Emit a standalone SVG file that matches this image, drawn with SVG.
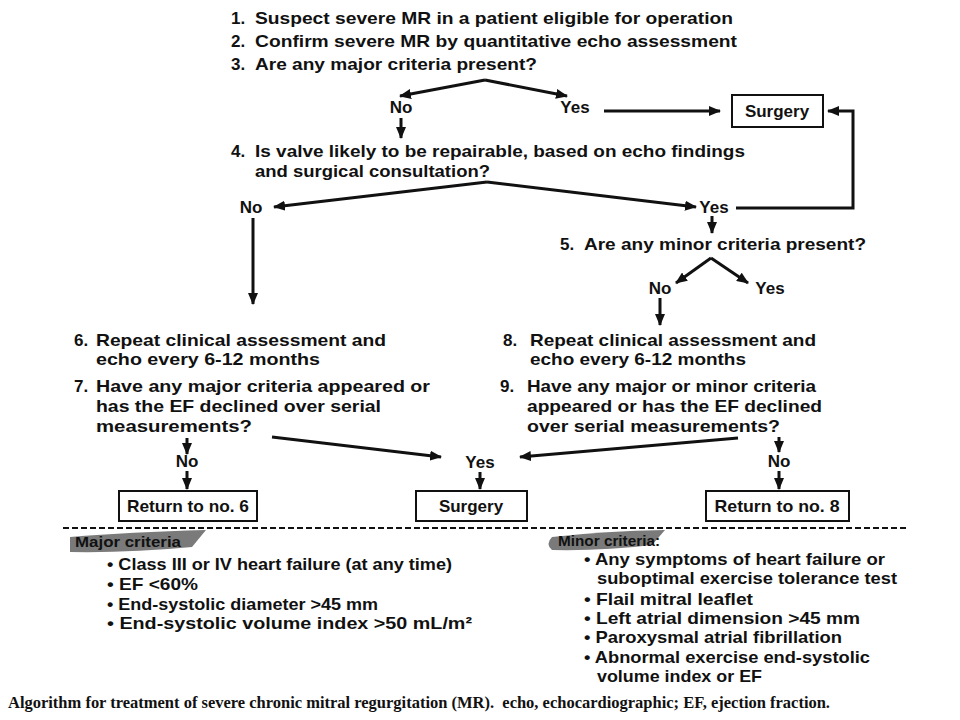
<svg xmlns="http://www.w3.org/2000/svg" width="960" height="720" viewBox="0 0 960 720">
<style>
.t{font-family:"Liberation Sans",Arial,sans-serif;font-weight:bold;font-size:17px;fill:#111}
.m{font-family:"Liberation Sans",Arial,sans-serif;font-weight:bold;font-size:17px;fill:#111}
.b{font-family:"Liberation Sans",Arial,sans-serif;font-weight:bold;font-size:17px;fill:#111}
.h{font-family:"Liberation Sans",Arial,sans-serif;font-weight:bold;font-size:15px;fill:#111}
.c{text-anchor:middle}
.cap{font-family:"Liberation Serif","Times New Roman",serif;font-weight:bold;font-size:16px;fill:#111}
.box{fill:#fff;stroke:#111;stroke-width:2}
.ln{fill:none;stroke:#111;stroke-width:3}
.tab{fill:#7a7a7a}
</style>
<defs>
<marker id="ah" markerUnits="userSpaceOnUse" markerWidth="12" markerHeight="10" refX="11" refY="5" orient="auto">
<path d="M0,0 L12,5 L0,10 z" fill="#111"/>
</marker>
</defs>
<rect width="960" height="720" fill="#fff"/>

<g id="steps1-3">
<text class="t" x="231" y="24">1.</text><text class="t" x="255" y="24" textLength="478" lengthAdjust="spacingAndGlyphs">Suspect severe MR in a patient eligible for operation</text>
<text class="t" x="231" y="47">2.</text><text class="t" x="255" y="47" textLength="482" lengthAdjust="spacingAndGlyphs">Confirm severe MR by quantitative echo assessment</text>
<text class="t" x="231" y="70">3.</text><text class="t" x="255" y="70" textLength="282" lengthAdjust="spacingAndGlyphs">Are any major criteria present?</text>
</g>
<g id="no1"><text class="t c" x="401" y="113">No</text></g>
<g id="yes1"><text class="t c" x="575" y="113">Yes</text></g>
<g id="surgery1"><rect class="box" x="732" y="95" width="91" height="32"/><text class="t c" x="777" y="117">Surgery</text></g>
<g id="step4">
<text class="t" x="231" y="157">4.</text><text class="t" x="255" y="157" textLength="490" lengthAdjust="spacingAndGlyphs">Is valve likely to be repairable, based on echo findings</text>
<text class="t" x="255" y="177" textLength="235" lengthAdjust="spacingAndGlyphs">and surgical consultation?</text>
</g>
<g id="no4"><text class="t c" x="251" y="213">No</text></g>
<g id="yes4"><text class="t c" x="714" y="213">Yes</text></g>
<g id="step5"><text class="t" x="560" y="250">5.</text><text class="t" x="584" y="250" textLength="282" lengthAdjust="spacingAndGlyphs">Are any minor criteria present?</text></g>
<g id="no5"><text class="t c" x="660" y="294">No</text></g>
<g id="yes5"><text class="t c" x="770" y="294">Yes</text></g>

<g id="step6">
<text class="m" x="74" y="346">6.</text><text class="m" x="96" y="346" textLength="290" lengthAdjust="spacingAndGlyphs">Repeat clinical assessment and</text>
<text class="m" x="96" y="365" textLength="224" lengthAdjust="spacingAndGlyphs">echo every 6-12 months</text>
</g>
<g id="step7">
<text class="m" x="74" y="392">7.</text><text class="m" x="96" y="392" textLength="334" lengthAdjust="spacingAndGlyphs">Have any major criteria appeared or</text>
<text class="m" x="96" y="412" textLength="285" lengthAdjust="spacingAndGlyphs">has the EF declined over serial</text>
<text class="m" x="96" y="432" textLength="156" lengthAdjust="spacingAndGlyphs">measurements?</text>
</g>
<g id="step8">
<text class="m" x="503" y="346">8.</text><text class="m" x="530" y="346" textLength="286" lengthAdjust="spacingAndGlyphs">Repeat clinical assessment and</text>
<text class="m" x="530" y="365" textLength="216" lengthAdjust="spacingAndGlyphs">echo every 6-12 months</text>
</g>
<g id="step9">
<text class="m" x="500" y="392">9.</text><text class="m" x="527" y="392" textLength="289" lengthAdjust="spacingAndGlyphs">Have any major or minor criteria</text>
<text class="m" x="527" y="412" textLength="295" lengthAdjust="spacingAndGlyphs">appeared or has the EF declined</text>
<text class="m" x="527" y="432" textLength="253" lengthAdjust="spacingAndGlyphs">over serial measurements?</text>
</g>
<g id="no7"><text class="m c" x="187" y="467">No</text></g>
<g id="yes79"><text class="m c" x="480" y="468">Yes</text></g>
<g id="no9"><text class="m c" x="779" y="467">No</text></g>
<g id="return6"><rect class="box" x="119" y="491" width="138" height="30"/><text class="m c" x="188" y="512" textLength="122" lengthAdjust="spacingAndGlyphs">Return to no. 6</text></g>
<g id="surgery2"><rect class="box" x="416" y="491" width="111" height="30"/><text class="m c" x="471" y="512">Surgery</text></g>
<g id="return8"><rect class="box" x="706" y="491" width="143" height="30"/><text class="m c" x="777" y="512" textLength="125" lengthAdjust="spacingAndGlyphs">Return to no. 8</text></g>

<g id="connectors">
<line class="ln" x1="485" y1="80" x2="400" y2="96" marker-end="url(#ah)"/>
<line class="ln" x1="485" y1="80" x2="567" y2="96" marker-end="url(#ah)"/>
<line class="ln" x1="604" y1="111" x2="720" y2="111" marker-end="url(#ah)"/>
<line class="ln" x1="401" y1="118" x2="401" y2="138" marker-end="url(#ah)"/>
<polyline class="ln" points="736,208 853,208 853,111 828,111" marker-end="url(#ah)"/>
<line class="ln" x1="487" y1="182" x2="274" y2="207" marker-end="url(#ah)"/>
<line class="ln" x1="487" y1="182" x2="696" y2="207" marker-end="url(#ah)"/>
<line class="ln" x1="712" y1="216" x2="712" y2="233" marker-end="url(#ah)"/>
<line class="ln" x1="711" y1="258" x2="676" y2="283" marker-end="url(#ah)"/>
<line class="ln" x1="711" y1="258" x2="748" y2="283" marker-end="url(#ah)"/>
<line class="ln" x1="660" y1="298" x2="660" y2="325" marker-end="url(#ah)"/>
<line class="ln" x1="253" y1="218" x2="253" y2="304" marker-end="url(#ah)"/>
<line class="ln" x1="272" y1="437" x2="441" y2="457" marker-end="url(#ah)"/>
<line class="ln" x1="738" y1="438" x2="520" y2="457" marker-end="url(#ah)"/>
<line class="ln" x1="187" y1="438" x2="187" y2="454" marker-end="url(#ah)"/>
<line class="ln" x1="187" y1="471" x2="187" y2="489" marker-end="url(#ah)"/>
<line class="ln" x1="779" y1="437" x2="779" y2="452" marker-end="url(#ah)"/>
<line class="ln" x1="779" y1="471" x2="779" y2="489" marker-end="url(#ah)"/>
<line class="ln" x1="480" y1="472" x2="480" y2="489" marker-end="url(#ah)"/>
</g>

<line x1="63" y1="528" x2="908" y2="528" stroke="#111" stroke-width="2" stroke-dasharray="6,3"/>

<g id="major">
<path class="tab" d="M70,537 Q130,532 206,530 L192,547 Q130,553 70,552 Z"/>
<text class="h" x="75" y="547" textLength="106" lengthAdjust="spacingAndGlyphs">Major criteria</text>
<text class="b" x="107" y="570" textLength="345" lengthAdjust="spacingAndGlyphs">• Class III or IV heart failure (at any time)</text>
<text class="b" x="107" y="590" textLength="91" lengthAdjust="spacingAndGlyphs">• EF  &lt;60%</text>
<text class="b" x="107" y="610" textLength="271" lengthAdjust="spacingAndGlyphs">• End-systolic diameter  &gt;45 mm</text>
<text class="b" x="107" y="629" textLength="365" lengthAdjust="spacingAndGlyphs">• End-systolic volume index  &gt;50 mL/m²</text>
</g>
<g id="minor">
<path class="tab" d="M552,537 Q605,531 665,530 L652,545 Q605,551 552,550 Q545,544 552,537 Z"/>
<text class="h" x="558" y="546" textLength="102" lengthAdjust="spacingAndGlyphs">Minor criteria:</text>
<text class="b" x="584" y="565" textLength="301" lengthAdjust="spacingAndGlyphs">• Any symptoms of heart failure or</text>
<text class="b" x="597" y="584" textLength="300" lengthAdjust="spacingAndGlyphs">suboptimal exercise tolerance test</text>
<text class="b" x="584" y="605" textLength="169" lengthAdjust="spacingAndGlyphs">• Flail mitral leaflet</text>
<text class="b" x="584" y="624" textLength="276" lengthAdjust="spacingAndGlyphs">• Left atrial dimension  &gt;45 mm</text>
<text class="b" x="584" y="643" textLength="258" lengthAdjust="spacingAndGlyphs">• Paroxysmal atrial fibrillation</text>
<text class="b" x="584" y="663" textLength="286" lengthAdjust="spacingAndGlyphs">• Abnormal exercise end-systolic</text>
<text class="b" x="597" y="682" textLength="165" lengthAdjust="spacingAndGlyphs">volume index or EF</text>
</g>

<text class="cap" x="8" y="708" textLength="822" lengthAdjust="spacingAndGlyphs" xml:space="preserve">Algorithm for treatment of severe chronic mitral regurgitation (MR).  echo, echocardiographic; EF, ejection fraction.</text>
</svg>
